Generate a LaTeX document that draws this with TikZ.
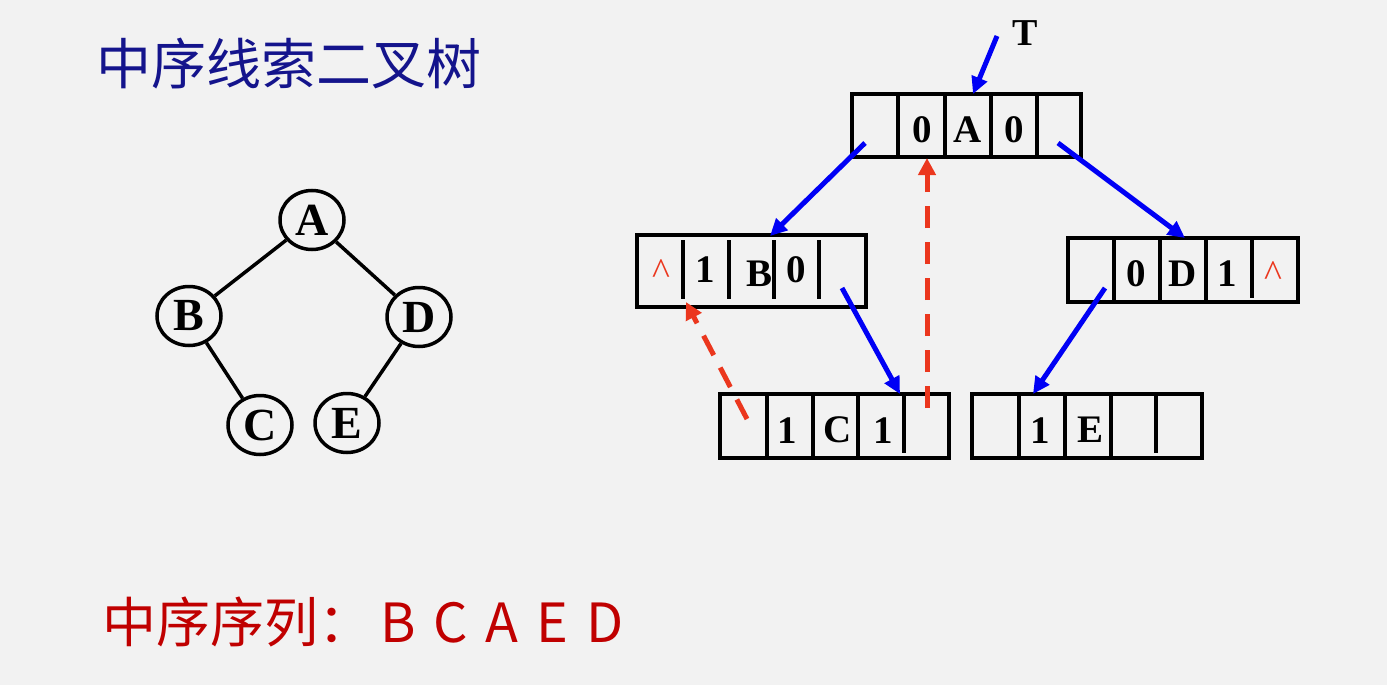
\documentclass[tikz,border=0pt]{standalone}
\usepackage{fontspec}
\setmainfont{Liberation Serif}
\newfontfamily\cjk{Noto Sans CJK SC}
\usetikzlibrary{arrows.meta,shapes.geometric}
\definecolor{bgc}{RGB}{242,242,242}
\definecolor{titleblue}{RGB}{20,20,140}
\definecolor{seqred}{RGB}{192,0,0}
\definecolor{thred}{RGB}{235,55,30}
\definecolor{ptrblue}{RGB}{0,0,245}
\tikzset{
  rec/.style={draw, line width=3.5pt, inner sep=0pt, minimum width=229pt, minimum height=64pt},
  sep/.style={line width=3.5pt},
  cell/.style={inner sep=0pt, font=\bfseries\fontsize{39}{39}\selectfont},
  nul/.style={inner sep=0pt, text=thred, font=\fontsize{38}{38}\selectfont},
  tnode/.style={ellipse, draw, line width=3.5pt, minimum width=64pt, minimum height=59pt, inner sep=0pt, font=\bfseries\fontsize{46}{46}\selectfont},
  tedge/.style={line width=3.5pt},
  ptr/.style={ptrblue, line width=5pt, -{Triangle[length=17pt,width=16pt]}},
  thr/.style={thred, line width=5pt, dash pattern=on 22pt off 14pt, -{Triangle[length=17pt,width=17pt]}},
}
\begin{document}
\begin{tikzpicture}[x=1pt,y=-1pt]
\fill[bgc] (0,0) rectangle (1387,685);
\useasboundingbox (0,0) rectangle (1387,685);

% titles
\node[text=titleblue, font=\cjk\fontsize{55}{55}\selectfont, anchor=west, inner sep=0pt] (title) at (96,64) {中序线索二叉树};
\node[text=seqred, font=\cjk\fontsize{54}{54}\selectfont, anchor=west, inner sep=0pt] (seq) at (102,622) {中序序列：\hspace{0.15em}B\hspace{0.33em}C\hspace{0.33em}A\hspace{0.33em}E\hspace{0.33em}D};

% binary tree
\node[tnode] (tA) at (312,220) {A};
\node[tnode] (tB) at (189,316) {B};
\node[tnode] (tD) at (419,317) {D};
\node[tnode] (tC) at (260,425) {C};
\node[tnode] (tE) at (347,423) {E};
\draw[tedge] (tA) -- (tB);
\draw[tedge] (tA) -- (tD);
\draw[tedge] (tB) -- (tC);
\draw[tedge] (tD) -- (tE);

% record A
\node[rec, minimum height=63pt] (nA) at (966.5,125.5) {};
\foreach \x in {898,945,991,1037} \draw[sep] (\x,94) -- (\x,157);
\node[cell] (a2) at (922,130) {0};
\node[cell] (a3) at (968,130) {A};
\node[cell] (a4) at (1014,130) {0};

% record B
\node[rec, minimum height=72pt] (nB) at (751.5,271) {};
\foreach \x in {683,729,774,819} \draw[sep] (\x,240) -- (\x,299);
\node[nul] (b1) at (661,272) {\textasciicircum};
\node[cell] (b2) at (705,270) {1};
\node[cell] (b3) at (759,274) {B};
\node[cell] (b4) at (796,270) {0};

% record D
\node[rec, minimum width=230pt] (nD) at (1183,270) {};
\foreach \x in {1114,1160,1206} \draw[sep] (\x,238) -- (\x,302);
\draw[sep] (1252,238) -- (1252,298);
\node[cell] (d2) at (1136,274) {0};
\node[cell] (d3) at (1183,274) {D};
\node[cell] (d4) at (1227,274) {1};
\node[nul] (d5) at (1273,274) {\textasciicircum};

% record C
\node[rec] (nC) at (834.5,426) {};
\foreach \x in {767,813,858} \draw[sep] (\x,394) -- (\x,458);
\draw[sep] (904,394) -- (904,453);
\node[cell] (c2) at (787,431) {1};
\node[cell] (c3) at (838,430) {C};
\node[cell] (c4) at (883,431) {1};

% record E
\node[rec, minimum width=230pt] (nE) at (1087,426) {};
\foreach \x in {1019,1065,1111} \draw[sep] (\x,394) -- (\x,458);
\draw[sep] (1156,394) -- (1156,453);
\node[cell] (e2) at (1040,431) {1};
\node[cell] (e3) at (1090,430) {E};

% head pointer
\node[font=\bfseries\fontsize{38}{38}\selectfont, inner sep=0pt] (T) at (1025,33) {T};
\coordinate (tS) at (997,36);
\coordinate (tT) at (973,94);
\draw[ptr] (tS) -- (tT);

% child pointers
\coordinate (aL) at (865,143);
\coordinate (bTop) at (770,236);
\coordinate (aR) at (1058,143);
\coordinate (dTop) at (1185,238);
\coordinate (bR) at (842,288);
\coordinate (cTop) at (900,394);
\coordinate (dL) at (1105,288);
\coordinate (eTop) at (1033,394);
\draw[ptr] (aL) -- (bTop);
\draw[ptr] (aR) -- (dTop);
\draw[ptr] (bR) -- (cTop);
\draw[ptr] (dL) -- (eTop);

% threads
\coordinate (cR) at (927,408);
\coordinate (aBot) at (927,158);
\coordinate (cL) at (747,419);
\coordinate (bBot) at (686,302);
\draw[thr] (cR) -- (aBot);
\draw[thr] (cL) -- (bBot);
\end{tikzpicture}
\end{document}
